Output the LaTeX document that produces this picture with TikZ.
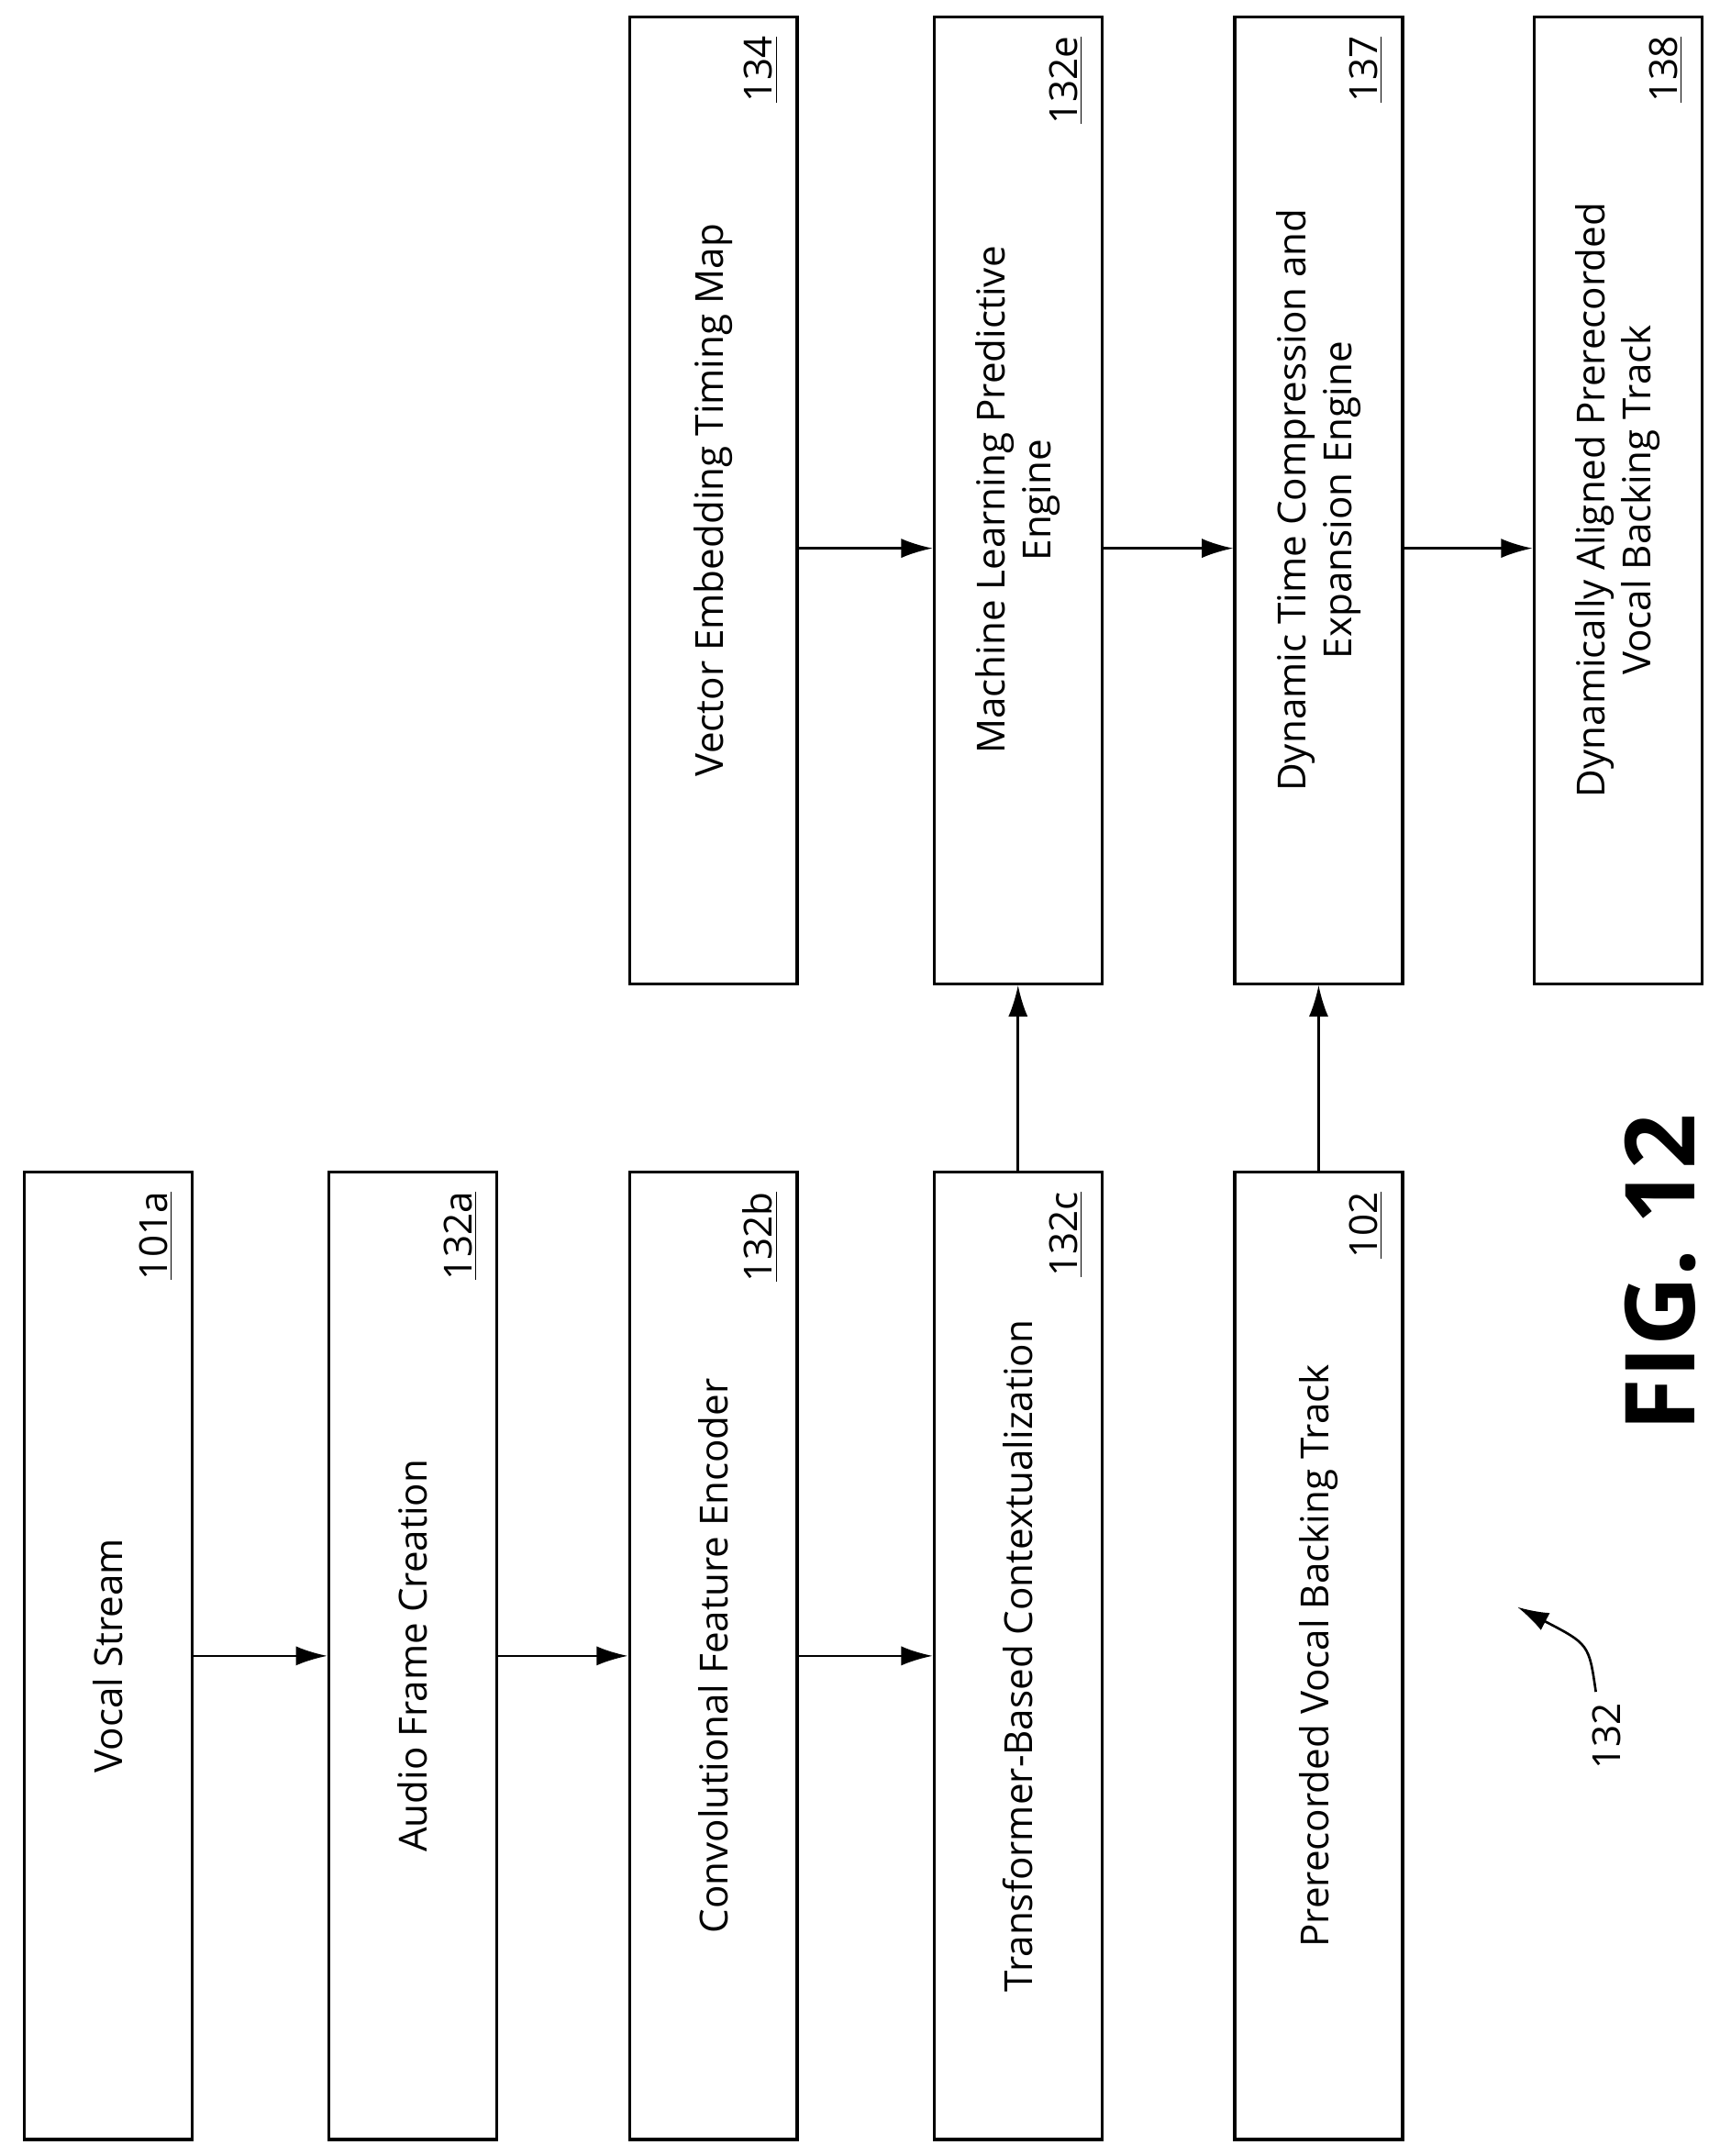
\documentclass[tikz,border=0pt]{standalone}
\usepackage{fontspec}
\setmainfont{Open Sans}
\usetikzlibrary{shapes.geometric}
\usetikzlibrary{arrows.meta}

\tikzset{
  blk/.style={draw, line width=1.2pt, rotate=90, minimum width=14.06cm,
    minimum height=2.44cm, align=center, font=\fontsize{16}{19}\selectfont},
  refno/.style={rotate=90, anchor=south east, inner sep=0.3cm,
    font=\fontsize{16}{19}\selectfont},
  flow/.style={-{Latex[length=13pt,width=8pt]}, line width=1pt}
}

\begin{document}
\begin{tikzpicture}[x=0.02cm, y=-0.02cm]
  \useasboundingbox (0,0) rectangle (1250,1567);

  % lower row
  \node (vs) [blk] at (78.5,1203.5) {Vocal Stream};
  \node (af) [blk] at (300,1203.5) {Audio Frame Creation};
  \node (cf) [blk] at (518.5,1203.5) {Convolutional Feature Encoder};
  \node (tc) [blk] at (740,1203.5) {Transformer-Based Contextualization};
  \node (pv) [blk] at (958.5,1203.5) {Prerecorded Vocal Backing Track};

  % upper row
  \node (ve) [blk] at (518.5,363.5) {Vector Embedding Timing Map};
  \node (ml) [blk] at (740,363.5) {Machine Learning Predictive\\Engine};
  \node (dt) [blk] at (958.5,363.5) {Dynamic Time Compression and\\Expansion Engine};
  \node (da) [blk] at (1176,363.5) {Dynamically Aligned Prerecorded\\Vocal Backing Track};

  % reference numbers
  \node [refno] at (vs.south east) {\underline{101a}};
  \node [refno] at (af.south east) {\underline{132a}};
  \node [refno] at (cf.south east) {\underline{132b}};
  \node [refno] at (tc.south east) {\underline{132c}};
  \node [refno] at (pv.south east) {\underline{102}};
  \node [refno] at (ve.south east) {\underline{134}};
  \node [refno] at (ml.south east) {\underline{132e}};
  \node [refno] at (dt.south east) {\underline{137}};
  \node [refno] at (da.south east) {\underline{138}};

  % connectors
  \draw[flow] (vs.south) -- (af.north);
  \draw[flow] (af.south) -- (cf.north);
  \draw[flow] (cf.south) -- (tc.north);
  \draw[flow] ([yshift=-0.7cm]ve.south) -- ([yshift=-0.7cm]ml.north);
  \draw[flow] ([yshift=-0.7cm]ml.south) -- ([yshift=-0.7cm]dt.north);
  \draw[flow] ([yshift=-0.7cm]dt.south) -- ([yshift=-0.7cm]da.north);
  \draw[flow] (tc.east) -- (ml.west);
  \draw[flow] (pv.east) -- (dt.west);

  % figure label
  \node (fig) [rotate=90, font=\bfseries\fontsize{40}{46}\selectfont] at (1207,925) {FIG. 12};
  \node (lb) [rotate=90, font=\fontsize{16}{19}\selectfont] at (1168,1262) {132};
  \coordinate (tip) at (1103,1168);
  \draw[flow] (lb.east) ++(-8,-2) .. controls (1155,1195) .. (tip);
\end{tikzpicture}
\end{document}
